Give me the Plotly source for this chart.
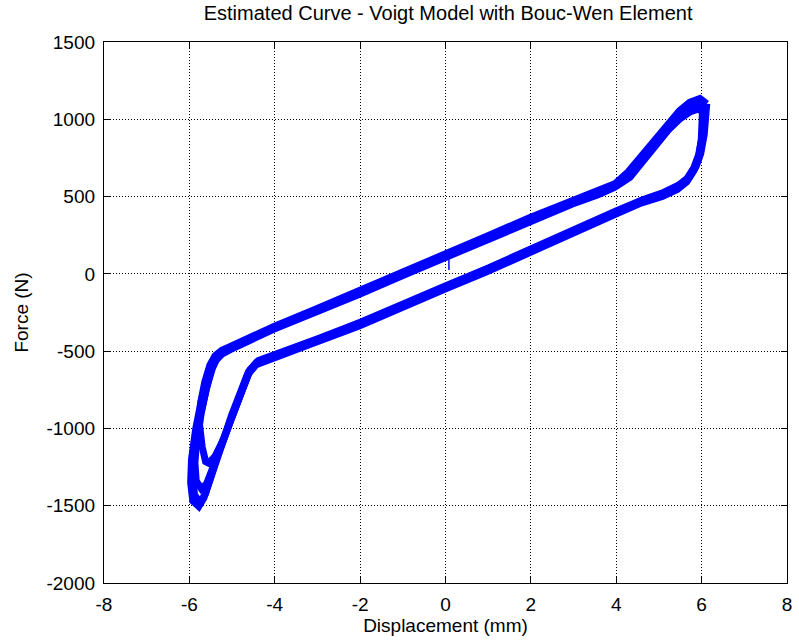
import plotly.graph_objects as go

# ---- data ----
# cycle 1
disp_c1 = [6.08, 6.07, 6.03, 5.95, 5.84, 5.68, 5.45, 5.10, 4.60, 4.00, 3.00, 2.00, 1.00, 0.00, -1.00, -2.00, -3.00, -4.00,
           -4.40, -4.60, -4.80, -5.00, -5.25, -5.45, -5.62, -5.75, -5.88, -5.92, -5.88, -5.78, -5.65, -5.50, -5.38, -5.20,
           -5.00, -4.00, -3.00, -2.00, -1.00, 0.00, 1.00, 2.00, 3.00, 3.60, 4.00, 4.30, 4.60, 4.90, 5.20, 5.50, 5.75, 5.95, 6.08]
force_c1 = [1080, 980, 880, 760, 680, 610, 560, 515, 470, 400, 270, 145, 25, -90, -210, -325, -430, -528,
            -575, -640, -780, -930, -1100, -1270, -1420, -1480, -1430, -1300, -1150, -950, -780, -630, -550, -505,
            -480, -350, -240, -125, -5, 110, 230, 350, 460, 520, 570, 640, 740, 850, 950, 1030, 1080, 1100, 1080]
# cycle 2
disp_c2 = [6.12, 6.10, 6.06, 5.98, 5.87, 5.71, 5.47, 5.12, 4.62, 4.02, 3.02, 2.02, 1.02, 0.02, -0.98, -1.98, -2.98, -3.98,
           -4.38, -4.58, -4.78, -4.98, -5.18, -5.40, -5.55, -5.62, -5.70, -5.76, -5.74, -5.64, -5.52, -5.40, -5.24,
           -5.04, -4.02, -3.02, -2.02, -1.02, -0.02, 0.98, 1.98, 2.98, 3.58, 3.98, 4.28, 4.58, 4.88, 5.18, 5.48, 5.72, 5.96, 6.12]
force_c2 = [1100, 1000, 900, 780, 695, 625, 575, 528, 480, 410, 285, 160, 40, -75, -195, -312, -418, -515,
            -560, -620, -760, -905, -1060, -1180, -1225, -1215, -1120, -980, -840, -700, -590, -530, -495,
            -470, -340, -225, -110, 10, 125, 245, 365, 475, 535, 585, 660, 760, 870, 970, 1055, 1110, 1135, 1100]
# cycle 3
disp_c3 = [6.02, 6.02, 5.99, 5.92, 5.81, 5.65, 5.43, 5.08, 4.58, 3.98, 2.98, 1.98, 0.98, -0.02, -1.02, -2.02, -3.02, -4.02,
           -4.45, -4.65, -4.85, -5.05, -5.28, -5.48, -5.66, -5.78, -5.92, -5.97, -5.95, -5.85, -5.72, -5.56, -5.42,
           -5.24, -5.04, -4.04, -3.04, -2.04, -1.04, -0.04, 0.96, 1.96, 2.96, 3.56, 3.96, 4.32, 4.62, 4.92, 5.22, 5.50, 5.74, 5.92, 6.02]
force_c3 = [1050, 960, 860, 740, 665, 595, 545, 500, 458, 385, 260, 135, 15, -100, -220, -338, -440, -538,
            -590, -660, -800, -960, -1140, -1310, -1450, -1505, -1470, -1350, -1200, -1000, -820, -660, -570,
            -520, -490, -360, -250, -135, -15, 100, 220, 340, 450, 510, 560, 625, 725, 830, 930, 1005, 1050, 1065, 1050]
# cycle 4
disp_c4 = [6.06, 6.05, 6.01, 5.93, 5.82, 5.66, 5.44, 5.10, 4.60, 4.00, 3.00, 2.00, 1.00, 0.00, -1.00, -2.00, -3.00, -4.00,
           -4.42, -4.62, -4.82, -5.02, -5.22, -5.42, -5.60, -5.72, -5.84, -5.87, -5.83, -5.72, -5.60, -5.46, -5.34,
           -5.18, -5.00, -4.00, -3.00, -2.00, -1.00, 0.00, 1.00, 2.00, 3.00, 3.60, 4.00, 4.30, 4.60, 4.90, 5.20, 5.48, 5.72, 5.92, 6.06]
force_c4 = [1090, 990, 890, 770, 688, 618, 568, 520, 475, 398, 275, 150, 30, -85, -205, -322, -425, -525,
            -570, -635, -770, -920, -1090, -1250, -1360, -1390, -1340, -1220, -1080, -900, -740, -610, -540,
            -500, -475, -345, -235, -120, 0, 115, 235, 355, 465, 525, 575, 650, 750, 860, 960, 1040, 1090, 1115, 1090]
# initial transient spike
disp_start = [0.08, 0.08]
force_start = [25, 120]

cycles = [(disp_c1, force_c1), (disp_c2, force_c2), (disp_c3, force_c3), (disp_c4, force_c4)]

x_tick_vals = [-8, -6, -4, -2, 0, 2, 4, 6, 8]
x_tick_labels = ["-8", "-6", "-4", "-2", "0", "2", "4", "6", "8"]
y_tick_vals = [-2000, -1500, -1000, -500, 0, 500, 1000, 1500]
y_tick_labels = ["-2000", "-1500", "-1000", "-500", "0", "500", "1000", "1500"]

title_text = "Estimated Curve - Voigt Model with Bouc-Wen Element"
x_title = "Displacement (mm)"
y_title = "Force (N)"

# ---- figure ----
FONT = "Liberation Sans, Arial, Helvetica, sans-serif"
fig = go.Figure()
for d, f in cycles:
    fig.add_trace(go.Scatter(x=d, y=f, mode="lines",
                             line=dict(color="#0000ff", width=7), showlegend=False,
                             hoverinfo="skip"))
fig.add_trace(go.Scatter(x=disp_start, y=force_start, mode="lines",
                         line=dict(color="#0000ff", width=1.5), showlegend=False))

axis_common = dict(
    showline=True, linecolor="black", linewidth=1.3, mirror="ticks",
    ticks="inside", ticklen=6, tickcolor="black", tickwidth=1,
    showgrid=True, gridcolor="black", gridwidth=1, griddash="1px,2px",
    zeroline=False, tickfont=dict(family=FONT, size=19, color="black"),
)

fig.update_layout(
    width=799, height=643,
    margin=dict(l=104, r=7, t=42, b=60),
    paper_bgcolor="white", plot_bgcolor="white",
    font=dict(family=FONT, size=19, color="black"),
    title=dict(text=title_text, x=0.5608, xanchor="center", y=1 - 13 / 643, yanchor="middle",
               yref="container", font=dict(family=FONT, size=20, color="black")),
    xaxis=dict(range=[-8, 8], tickvals=x_tick_vals, ticktext=x_tick_labels,
               title=dict(text=x_title, standoff=4, font=dict(family=FONT, size=19)),
               ticklabelstandoff=4, **axis_common),
    yaxis=dict(range=[-2000, 1500], tickvals=y_tick_vals, ticktext=y_tick_labels,
               title=dict(text=y_title, standoff=12, font=dict(family=FONT, size=19)),
               ticklabelstandoff=4, **axis_common),
)

fig.write_html("out.html")
